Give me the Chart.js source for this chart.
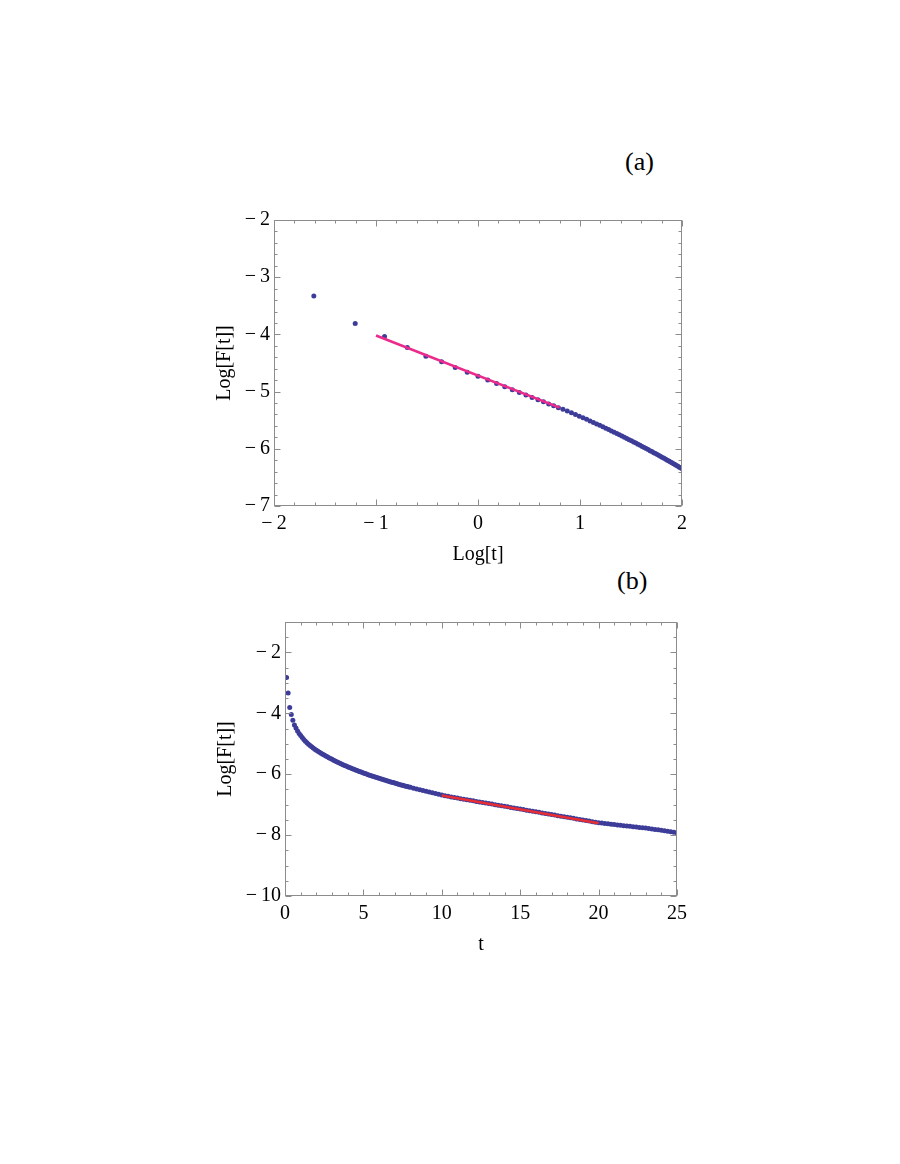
<!DOCTYPE html>
<html>
<head>
<meta charset="utf-8">
<script src="https://cdn.jsdelivr.net/npm/chart.js@4.4.0/dist/chart.umd.min.js"></script>
<style>
  body { margin: 0; background: #fff; width: 900px; height: 1164px; position: relative; }
  canvas { position: absolute; }
  #chartA { left: 150px; top: 190px; }
  #chartB { left: 150px; top: 590px; }
  .tag { position: absolute; font-family: 'Liberation Serif', 'Times New Roman', serif; font-size: 26px; line-height: 1; color: #000; }
</style>
</head>
<body>
<div class="tag" style="left:625px; top:149px;">(a)</div>
<div class="tag" style="left:617px; top:568px;">(b)</div>
<canvas id="chartA" width="560" height="400"></canvas>
<canvas id="chartB" width="560" height="400"></canvas>
<script>
// sample times t
const tValues = [
  0.1, 0.2, 0.3, 0.4, 0.5, 0.6, 0.7, 0.8, 0.9, 1.0,
  1.1, 1.2, 1.3, 1.4, 1.5, 1.6, 1.7, 1.8, 1.9, 2.0,
  2.1, 2.2, 2.3, 2.4, 2.5, 2.6, 2.7, 2.8, 2.9, 3.0,
  3.1, 3.2, 3.3, 3.4, 3.5, 3.6, 3.7, 3.8, 3.9, 4.0,
  4.1, 4.2, 4.3, 4.4, 4.5, 4.6, 4.7, 4.8, 4.9, 5.0,
  5.1, 5.2, 5.3, 5.4, 5.5, 5.6, 5.7, 5.8, 5.9, 6.0,
  6.1, 6.2, 6.3, 6.4, 6.5, 6.6, 6.7, 6.8, 6.9, 7.0,
  7.1, 7.2, 7.3, 7.4, 7.5, 7.6, 7.7, 7.8, 7.9, 8.0,
  8.2, 8.4, 8.6, 8.8, 9.0, 9.2, 9.4, 9.6, 9.8, 10.0,
  10.2, 10.4, 10.6, 10.8, 11.0, 11.2, 11.4, 11.6, 11.8, 12.0,
  12.2, 12.4, 12.6, 12.8, 13.0, 13.2, 13.4, 13.6, 13.8, 14.0,
  14.2, 14.4, 14.6, 14.8, 15.0, 15.2, 15.4, 15.6, 15.8, 16.0,
  16.2, 16.4, 16.6, 16.8, 17.0, 17.2, 17.4, 17.6, 17.8, 18.0,
  18.2, 18.4, 18.6, 18.8, 19.0, 19.2, 19.4, 19.6, 19.8, 20.0,
  20.2, 20.4, 20.6, 20.8, 21.0, 21.2, 21.4, 21.6, 21.8, 22.0,
  22.2, 22.4, 22.6, 22.8, 23.0, 23.2, 23.4, 23.6, 23.8, 24.0,
  24.2, 24.4, 24.6, 24.8, 25.0
];

// Log[F[t]]
const logF = [
  -2.82, -3.33, -3.81, -4.035, -4.23, -4.38, -4.48, -4.58, -4.66, -4.73,
  -4.797, -4.858, -4.914, -4.966, -5.014, -5.059, -5.101, -5.141, -5.179, -5.215,
  -5.249, -5.282, -5.309, -5.340, -5.371, -5.400, -5.429, -5.458, -5.485, -5.512,
  -5.539, -5.565, -5.590, -5.615, -5.639, -5.663, -5.687, -5.710, -5.732, -5.755,
  -5.776, -5.798, -5.819, -5.840, -5.860, -5.881, -5.900, -5.920, -5.939, -5.958,
  -5.977, -5.996, -6.014, -6.032, -6.049, -6.067, -6.084, -6.101, -6.118, -6.135,
  -6.151, -6.167, -6.184, -6.200, -6.215, -6.231, -6.246, -6.261, -6.276, -6.291,
  -6.306, -6.321, -6.335, -6.350, -6.364, -6.378, -6.392, -6.405, -6.418, -6.431,
  -6.457, -6.482, -6.507, -6.531, -6.556, -6.581, -6.607, -6.633, -6.659, -6.685,
  -6.705, -6.725, -6.745, -6.765, -6.784, -6.802, -6.820, -6.838, -6.856, -6.874,
  -6.892, -6.910, -6.928, -6.946, -6.964, -6.982, -7.000, -7.018, -7.036, -7.054,
  -7.072, -7.090, -7.108, -7.126, -7.144, -7.162, -7.180, -7.198, -7.216, -7.234,
  -7.252, -7.270, -7.288, -7.306, -7.324, -7.342, -7.360, -7.378, -7.396, -7.414,
  -7.432, -7.450, -7.468, -7.486, -7.504, -7.522, -7.540, -7.558, -7.576, -7.594,
  -7.606, -7.618, -7.630, -7.642, -7.654, -7.666, -7.678, -7.690, -7.700, -7.710,
  -7.722, -7.734, -7.746, -7.758, -7.770, -7.784, -7.798, -7.812, -7.826, -7.840,
  -7.856, -7.872, -7.888, -7.904, -7.920
];

// fitted lines
const fitA_x = [-1, 0.8];
const fitA_y = [-4.02, -5.28];
const fitB_x = [10, 20];
const fitB_y = [-6.70, -7.61];

// tick labels
const aXTicks = [-2, -1, 0, 1, 2];
const aYTicks = [-7, -6, -5, -4, -3, -2];
const bXTicks = [0, 5, 10, 15, 20, 25];
const bYTicks = [-10, -8, -6, -4, -2];

const DOT = 'rgb(61,61,153)';
const FRAME = '#8c8c8c';
const SERIF = "'Liberation Serif', 'Times New Roman', serif";

function fmt(v) {
    return v < 0 ? '\u2212\u2009' + Math.abs(v) : String(v);
}

function isMajor(list, v) {
    return list.some(m => Math.abs(m - v) < 1e-6);
}

// Mathematica style frame with inward ticks on all four sides
function makeFrame(xStep, yStep, xMajor, yMajor) {
    return {
        id: 'frame',
        afterDatasetsDraw(chart) {
            const { ctx, chartArea: a } = chart;
            const xs = chart.scales.x, ys = chart.scales.y;
            const L = Math.round(a.left) + 0.5, R = Math.round(a.right) - 0.5;
            const T = Math.round(a.top) + 0.5, B = Math.round(a.bottom) - 0.5;
            ctx.save();
            ctx.strokeStyle = FRAME;
            ctx.lineWidth = 1;
            ctx.beginPath();
            const nx = Math.round((xs.max - xs.min) / xStep);
            for (let k = 0; k <= nx; k++) {
                const v = xs.min + k * xStep;
                const len = isMajor(xMajor, v) ? 6 : 3;
                const px = Math.round(xs.getPixelForValue(v)) + 0.5;
                ctx.moveTo(px, B); ctx.lineTo(px, B - len);
                ctx.moveTo(px, T); ctx.lineTo(px, T + len);
            }
            const ny = Math.round((ys.max - ys.min) / yStep);
            for (let k = 0; k <= ny; k++) {
                const v = ys.min + k * yStep;
                const len = isMajor(yMajor, v) ? 6 : 3;
                const py = Math.round(ys.getPixelForValue(v)) + 0.5;
                ctx.moveTo(L, py); ctx.lineTo(L + len, py);
                ctx.moveTo(R, py); ctx.lineTo(R - len, py);
            }
            ctx.stroke();
            ctx.strokeRect(L, T, R - L, B - T);
            ctx.restore();
        }
    };
}

function axis(min, max, ticks, title, fitSize, titlePad, horizontal) {
    return {
        type: 'linear', min: min, max: max,
        afterBuildTicks: s => { s.ticks = ticks.map(v => ({ value: v })); },
        afterFit: s => { if (horizontal) s.height = fitSize; else s.width = fitSize; },
        grid: { display: false, drawTicks: false },
        border: { display: false },
        ticks: {
            callback: fmt, autoSkip: false, maxRotation: 0,
            padding: horizontal ? 6 : 4,
            color: '#000', font: { family: SERIF, size: 20 }
        },
        title: {
            display: true, text: title, color: '#000',
            font: { family: SERIF, size: 20 },
            padding: horizontal ? { top: 0, bottom: titlePad } : { top: titlePad, bottom: 0 }
        }
    };
}

function makeChart(id, points, fit, cfg) {
    return new Chart(document.getElementById(id), {
        type: 'scatter',
        data: {
            datasets: [
                {
                    data: fit.x.map((x, i) => ({ x: x, y: fit.y[i] })),
                    showLine: true, borderColor: cfg.fitColor, borderWidth: 2.6,
                    pointRadius: 0, order: 0, clip: 0
                },
                {
                    data: points,
                    backgroundColor: DOT, pointRadius: 2.5, pointBorderWidth: 0,
                    borderWidth: 0, order: 1, clip: 0
                }
            ]
        },
        options: {
            responsive: false, animation: false, events: [],
            layout: { autoPadding: false, padding: cfg.padding },
            plugins: { legend: { display: false }, tooltip: { enabled: false } },
            scales: { x: cfg.x, y: cfg.y }
        },
        plugins: [makeFrame(cfg.xStep, cfg.yStep, cfg.xMajor, cfg.yMajor)]
    });
}

// (a) log-log plot
makeChart('chartA',
    tValues.map((t, i) => ({ x: Math.log(t), y: logF[i] })),
    { x: fitA_x, y: fitA_y },
    {
        fitColor: 'rgb(236,42,140)',
        padding: { left: 0, top: 30, right: 28, bottom: 0 },
        x: axis(-2, 2, aXTicks, 'Log[t]', 84, 23, true),
        y: axis(-7, -2, aYTicks, 'Log[F[t]]', 124, 63, false),
        xStep: 0.2, yStep: 0.2, xMajor: aXTicks, yMajor: aYTicks
    });

// (b) log-linear plot
makeChart('chartB',
    tValues.map((t, i) => ({ x: t, y: logF[i] })),
    { x: fitB_x, y: fitB_y },
    {
        fitColor: 'rgb(232,46,52)',
        padding: { left: 0, top: 32, right: 33, bottom: 0 },
        x: axis(0, 25, bXTicks, 't', 94, 33, true),
        y: axis(-10, -1, bYTicks, 'Log[F[t]]', 135, 64, false),
        xStep: 1, yStep: 0.5, xMajor: bXTicks, yMajor: bYTicks
    });
</script>
</body>
</html>
